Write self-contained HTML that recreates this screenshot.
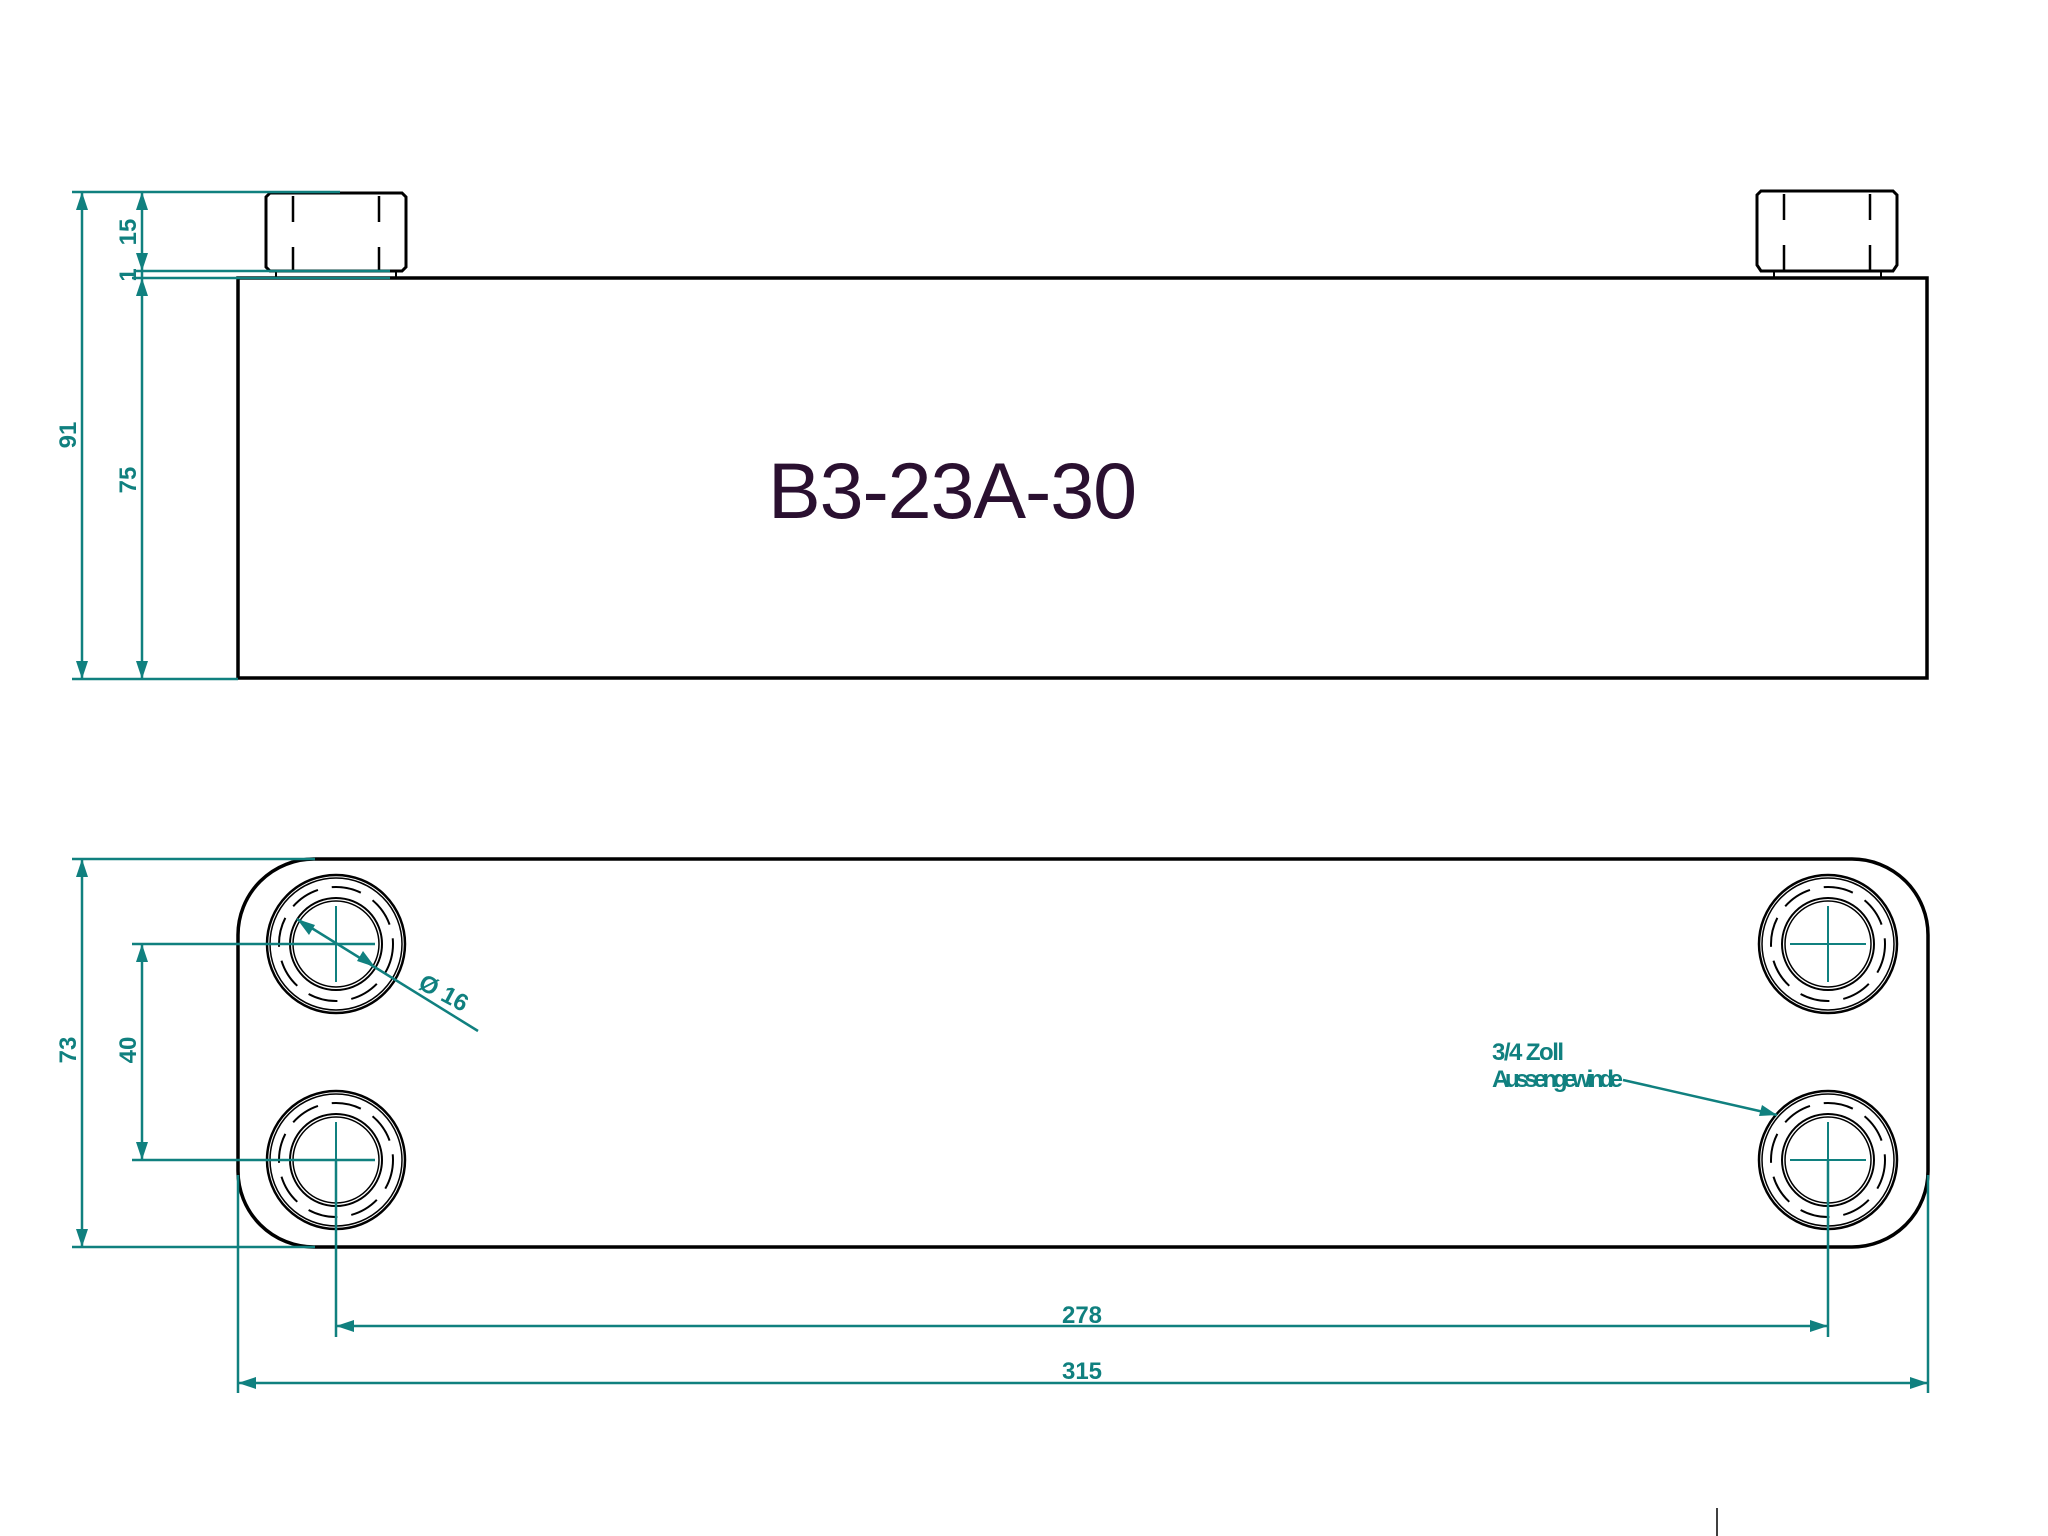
<!DOCTYPE html>
<html><head><meta charset="utf-8"><style>html,body{margin:0;padding:0;background:#fff}svg{display:block}</style></head>
<body>
<svg width="2048" height="1536" viewBox="0 0 2048 1536" xmlns="http://www.w3.org/2000/svg">
<defs>
<g id="hole">
<circle r="69" fill="none" stroke="#000" stroke-width="2.5"/>
<circle r="66" fill="none" stroke="#000" stroke-width="1.5"/>
<circle r="57" fill="none" stroke="#000" stroke-width="2" stroke-dasharray="30 14"/>
<circle r="46" fill="none" stroke="#000" stroke-width="2"/>
<circle r="43" fill="none" stroke="#000" stroke-width="1.5"/>
<path d="M-38 0H38M0 -38V38" stroke="#10807f" stroke-width="2"/>
</g>
</defs>
<g fill="none" stroke="#000" stroke-width="3.5">
<rect x="238" y="278" width="1689" height="400"/>
<!-- fittings -->
<path d="M270 193H402l4 4V267l-4 4H270l-4-4V197z" stroke-width="3"/>
<path d="M293 196V222M293 247V271M379 196V222M379 247V271" stroke-width="2.5"/>
<path d="M276 271V278M396 271V278" stroke-width="2"/>
<path d="M1761 191H1893l4 4V265l-4 6H1761l-4-6V195z" stroke-width="3"/>
<path d="M1784 194V220M1784 245V271M1870 194V220M1870 245V271" stroke-width="2.5"/>
<path d="M1774 271V278M1881 271V278" stroke-width="2"/>
<rect x="238" y="859" width="1690" height="388" rx="76" ry="76"/>
</g>
<use href="#hole" x="336" y="944"/>
<use href="#hole" x="336" y="1160"/>
<use href="#hole" x="1828" y="944"/>
<use href="#hole" x="1828" y="1160"/>
<text x="768" y="518" font-family="Liberation Sans, sans-serif" font-size="79" fill="#2a1030" textLength="369">B3-23A-30</text>
<g stroke="#10807f" stroke-width="2.5" fill="none">
<!-- side dims -->
<path d="M72 192H340M82 192V679M72 679H238M142 192V679M135 271H390M132 278H390"/>
<!-- front dims -->
<path d="M72 859H315M82 859V1247M72 1247H315M132 944H375M142 944V1160M132 1160H375"/>
<path d="M297 919L478 1031"/>
<path d="M238 1175V1393M336 1160V1337M1828 1160V1337M1928 1175V1393"/>
<path d="M336 1326H1828M238 1383H1928"/>
<path d="M1623 1080L1777 1115"/>
</g>
<g fill="#10807f">
<path d="M82 192l-6 18h12z"/><path d="M82 679l-6-18h12z"/>
<path d="M142 192l-6 18h12z"/><path d="M142 271l-6-18h12z"/><path d="M142 278l-6 18h12z"/><path d="M142 679l-6-18h12z"/>
<path d="M82 859l-6 18h12z"/><path d="M82 1247l-6-18h12z"/>
<path d="M142 944l-6 18h12z"/><path d="M142 1160l-6-18h12z"/>
<path d="M336 1326l18-6v12z"/><path d="M1828 1326l-18-6v12z"/>
<path d="M238 1383l18-6v12z"/><path d="M1928 1383l-18-6v12z"/>
<path d="M297 919l18 6-6 10z"/><path d="M375 967l-18-6 6-10z"/>
<path d="M1777 1115l-18 1 3-11z"/>
</g>
<g font-family="Liberation Sans Narrow, Liberation Sans, sans-serif" font-weight="bold" fill="#10807f" font-size="24">
<text transform="translate(76 435) rotate(-90)" text-anchor="middle">91</text>
<text transform="translate(136 232) rotate(-90)" text-anchor="middle">15</text>
<text transform="translate(136 275) rotate(-90)" text-anchor="middle">1</text>
<text transform="translate(136 480) rotate(-90)" text-anchor="middle">75</text>
<text transform="translate(76 1050) rotate(-90)" text-anchor="middle">73</text>
<text transform="translate(136 1050) rotate(-90)" text-anchor="middle">40</text>
<text transform="translate(440 1000) rotate(28)" text-anchor="middle">Ø 16</text>
<text x="1082" y="1323" text-anchor="middle">278</text>
<text x="1082" y="1379" text-anchor="middle">315</text>
<text x="1492" y="1060" textLength="72">3/4 Zoll</text>
<text x="1492" y="1087" textLength="131">Aussengewinde</text>
</g>
<path d="M1717 1508V1536" stroke="#000" stroke-width="1.5"/>
</svg>
</body></html>
